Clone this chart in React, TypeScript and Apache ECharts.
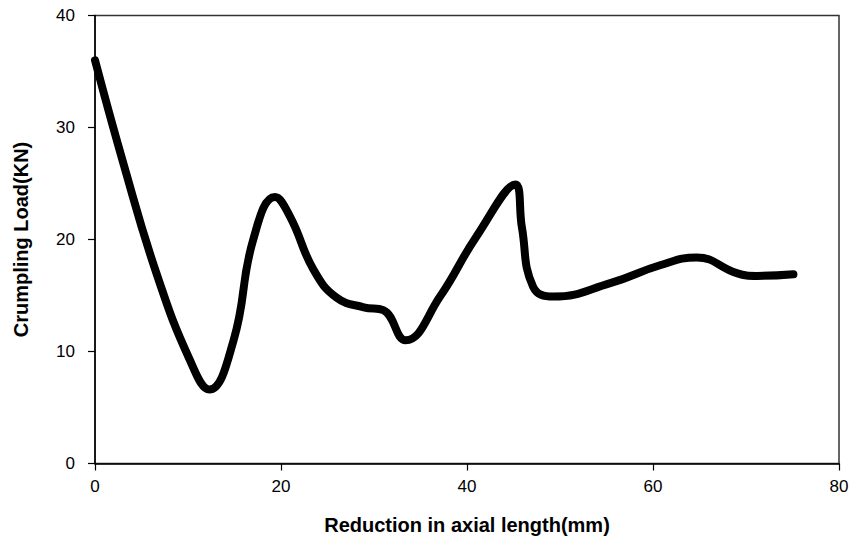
import React, { useEffect, useRef } from "react";
import * as echarts from "echarts";

const reduction: number[] = [
  0, 3.05, 6.6, 10.2, 12.3, 14.9, 17.0, 19.35, 21.0, 23.5, 26.0, 28.9, 31.0, 33.4, 37.1, 41.0,
  45.2, 45.9, 47.1, 49.3, 55.4, 60.75, 64.7, 69.0, 71.15, 75.1,
];
const load: number[] = [
  36.0, 26.8, 17.0, 9.24, 6.6, 11.0, 19.95, 23.8, 22.0, 17.3, 14.8, 13.95, 13.7, 11.0, 14.9,
  20.25, 24.9, 21.1, 15.8, 14.9, 16.1, 17.7, 18.4, 17.0, 16.75, 16.9,
];
const xTicks = { min: 0, max: 80, interval: 20 };
const yTicks = { min: 0, max: 40, interval: 10 };
const xTitle = "Reduction in axial length(mm)";
const yTitle = "Crumpling Load(KN)";

export default function App() {
  const ref = useRef<HTMLDivElement>(null);
  useEffect(() => {
    if (!ref.current) return;
    const chart = echarts.init(ref.current, undefined, { renderer: "svg" });
    const font = "'Liberation Sans', Arial, sans-serif";
    const axisCommon = {
      axisLine: { show: true, onZero: false, lineStyle: { color: "#000", width: 1.5 } },
      axisTick: { show: true, inside: false, length: 7, lineStyle: { color: "#000", width: 1.2 } },
      splitLine: { show: false },
      axisLabel: { color: "#000", fontSize: 17, fontFamily: font },
      nameLocation: "middle" as const,
      nameTextStyle: { color: "#000", fontWeight: "bold" as const, fontFamily: font },
    };
    chart.setOption({
      animation: false,
      backgroundColor: "#fff",
      grid: {
        left: 95,
        right: 17,
        top: 15.5,
        bottom: 85.5,
        show: true,
        borderColor: "#333",
        borderWidth: 1.5,
        backgroundColor: "transparent",
      },
      xAxis: {
        type: "value",
        ...xTicks,
        ...axisCommon,
        axisLabel: { ...axisCommon.axisLabel, margin: 14 },
        name: xTitle,
        nameGap: 51,
        nameTextStyle: { ...axisCommon.nameTextStyle, fontSize: 20 },
      },
      yAxis: {
        type: "value",
        ...yTicks,
        ...axisCommon,
        axisLabel: { ...axisCommon.axisLabel, margin: 20 },
        name: yTitle,
        nameGap: 64,
        nameTextStyle: { ...axisCommon.nameTextStyle, fontSize: 20 },
      },
      series: [
        {
          type: "line",
          data: reduction.map((x, i) => [x, load[i]]),
          smooth: 0.45,
          showSymbol: false,
          lineStyle: { color: "#000", width: 8, cap: "round", join: "round" },
        },
      ],
    });
    return () => chart.dispose();
  }, []);
  return (
    <div
      ref={ref}
      style={{ position: "fixed", left: 0, top: 0, width: 856, height: 549, background: "#fff" }}
    />
  );
}
